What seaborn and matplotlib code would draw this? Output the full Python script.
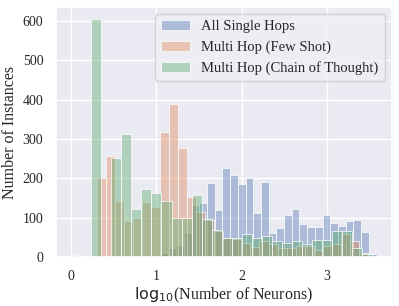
import numpy as np
import pandas as pd
import matplotlib
matplotlib.use("Agg")
import matplotlib.pyplot as plt
import seaborn as sns

# histogram counts, one list per series
single_hop_range = (1.05, 3.58)
single_hop_counts = [9, 22, 30, 60, 131, 138, 187, 119, 227, 208, 185, 200, 111, 190,
                     62, 75, 107, 122, 84, 77, 77, 107, 87, 79, 92, 94, 64, 8]

few_shot_range = (0.30, 3.48)
few_shot_counts = [202, 258, 142, 92, 99, 139, 126, 318, 389, 277, 152, 115, 94, 65, 48,
                   45, 36, 26, 40, 32, 22, 22, 29, 29, 18, 29, 32, 58, 41, 10]

cot_range = (0.0, 3.53)
cot_counts = [5, 0, 605, 0, 252, 312, 122, 173, 163, 142, 98, 100, 158, 97, 69,
              48, 49, 58, 49, 54, 41, 36, 41, 32, 43, 44, 67, 67, 24, 7]

labels = ["All Single Hops", "Multi Hop (Few Shot)", "Multi Hop (Chain of Thought)"]

sns.set_theme(style="darkgrid")
plt.rcParams["font.family"] = ["Liberation Serif", "DejaVu Serif"]
colors = sns.color_palette("deep")

fig, ax = plt.subplots(figsize=(3.99, 3.06), dpi=100)

series = [(single_hop_range, single_hop_counts),
          (few_shot_range, few_shot_counts),
          (cot_range, cot_counts)]
for i, ((lo, hi), counts) in enumerate(series):
    edges = np.linspace(lo, hi, len(counts) + 1)
    df = pd.DataFrame({"x": (edges[:-1] + edges[1:]) / 2, "n": counts})
    sns.histplot(data=df, x="x", weights="n", bins=list(edges), color=colors[i],
                 alpha=0.4, edgecolor="white", linewidth=0.5, label=labels[i], ax=ax)

ax.set_xticks([0, 1, 2, 3])
ax.set_yticks([0, 100, 200, 300, 400, 500, 600])
ax.tick_params(labelsize=10, pad=3)
ax.set_xlabel(r"$\mathrm{log}_{10}$(Number of Neurons)", fontsize=11.5, labelpad=2)
ax.set_ylabel("Number of Instances", fontsize=11.5, labelpad=3)
ax.legend(loc="upper right", fontsize=10.5, frameon=True, facecolor="#EEEEF4",
          edgecolor="#CCCCCC", borderaxespad=0.5)

plt.subplots_adjust(left=0.14, right=0.982, top=0.977, bottom=0.16)
plt.savefig("out.png", dpi=100)
